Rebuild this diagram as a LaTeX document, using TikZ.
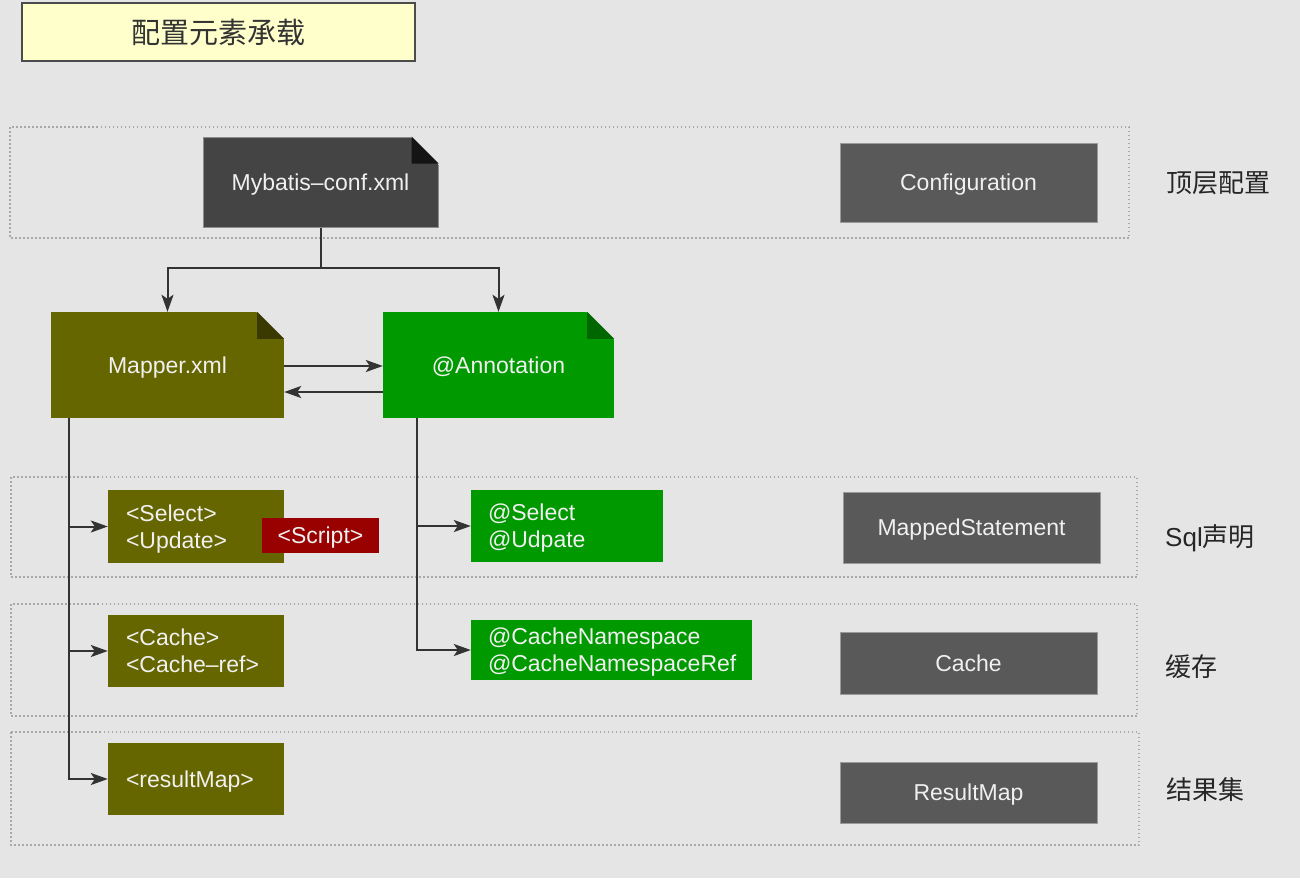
\documentclass[tikz,border=0pt]{standalone}
\usepackage{fontspec}
\setmainfont{Liberation Sans}
\newfontfamily\cjk{Noto Sans CJK SC}
\newfontfamily\latinfont{Liberation Sans}
\usetikzlibrary{arrows.meta,positioning}

\definecolor{bggray}{HTML}{E5E5E5}
\definecolor{groupline}{HTML}{A8A8A8}
\definecolor{confdoc}{HTML}{444444}
\definecolor{confold}{HTML}{141414}
\definecolor{xmlbox}{HTML}{666600}
\definecolor{xmlfold}{HTML}{3A3A00}
\definecolor{annobox}{HTML}{009900}
\definecolor{annofold}{HTML}{006600}
\definecolor{scriptbox}{HTML}{990000}
\definecolor{classbox}{HTML}{595959}
\definecolor{classline}{HTML}{9A9A9A}
\definecolor{titlebox}{HTML}{FFFFCC}
\definecolor{connline}{HTML}{333333}

\tikzset{
  txt/.style={font=\fontsize{23}{27}\selectfont, text=white!94!black},
  plainbox/.style={txt, inner sep=0pt, text depth=0pt},
  listbox/.style={txt, inner xsep=18pt, inner ysep=0pt, align=left, text depth=27pt},
  classnode/.style={plainbox, fill=classbox, draw=classline, line width=1pt},
  layer/.style={font=\cjk\fontsize{26}{30}\selectfont, text=black!85},
  group/.style={draw=groupline, line width=1.2pt, dash pattern=on 1.5pt off 2.5pt},
  conn/.style={draw=connline, line width=2pt},
  arr/.style={conn, -{Stealth[length=17pt,width=12pt,inset=4pt]}},
}

% folded corner of a document node
\newcommand{\foldcorner}[3]{%
  \filldraw[bggray, line width=1.5pt] (#1.north east) -- ++(-#2,0pt) -- ++(#2,-#2) -- cycle;
  \fill[#3] (#1.north east) ++(-#2,0pt) -- ++(#2,-#2) -- ++(-#2,0pt) -- cycle;}

\begin{document}
\begin{tikzpicture}[x=1pt,y=-1pt]
\fill[bggray] (0,0) rectangle (1300,878);
\useasboundingbox (0,0) rectangle (1300,878);

% title
\node[draw=black!70, line width=1.2pt, fill=titlebox, minimum width=393pt, minimum height=58pt,
      font=\cjk\fontsize{29}{33}\selectfont, text=black!80] (title) at (218.5,32) {配置元素承载};

% layers
\draw[group] (10,127) rectangle (1129,238);
\draw[group] (11,477) rectangle (1137,577);
\draw[group] (11,604) rectangle (1137,716);
\draw[group] (11,732) rectangle (1139,845);

% top level
\node[plainbox, fill=confdoc, draw=black!45, line width=1pt, minimum width=235pt, minimum height=90pt] (conf) at (320.5,182) {Mybatis–conf.xml};
\foldcorner{conf}{27pt}{confold}
\node[classnode, minimum width=257pt, minimum height=79pt] (configuration) at (968.5,182.5) {Configuration};
\node[layer] (toplabel) at (1218,183) {顶层配置};

% mapper sources
\node[plainbox, fill=xmlbox, minimum width=233pt, minimum height=106pt] (mapper) at (167.5,365) {Mapper.xml};
\foldcorner{mapper}{27pt}{xmlfold}
\node[plainbox, fill=annobox, minimum width=231pt, minimum height=106pt] (anno) at (498.5,365) {@Annotation};
\foldcorner{anno}{27pt}{annofold}

% sql statements
\node[listbox, fill=xmlbox, text width=140pt, minimum height=73pt] (xmlsql) at (196,526.5) {<Select>\\<Update>};
\node[plainbox, fill=scriptbox, minimum width=117pt, minimum height=35pt] (script) at (320.5,535.5) {<Script>};
\node[listbox, fill=annobox, inner xsep=17pt, text width=158pt, minimum height=72pt] (annosql) at (567,526) {@Select\\@Udpate};
\node[classnode, minimum width=257pt, minimum height=71pt] (mapped) at (971.5,527.5) {MappedStatement};
\node[layer] (sqllabel) at (1210,538) {{\latinfont Sql}声明};

% cache
\node[listbox, fill=xmlbox, text width=140pt, minimum height=72pt] (xmlcache) at (196,651) {<Cache>\\<Cache–ref>};
\node[listbox, fill=annobox, inner xsep=17pt, text width=247pt, minimum height=60pt] (annocache) at (611.5,650) {@CacheNamespace\\@CacheNamespaceRef};
\node[classnode, minimum width=257pt, minimum height=62pt] (cache) at (968.5,663) {Cache};
\node[layer] (cachelabel) at (1191,667) {缓存};

% result sets
\node[listbox, text depth=0pt, fill=xmlbox, text width=140pt, minimum height=72pt] (xmlresult) at (196,779) {<resultMap>};
\node[classnode, minimum width=257pt, minimum height=61pt] (resultmap) at (968.5,792.5) {ResultMap};
\node[layer] (resultlabel) at (1205,790) {结果集};

% connectors
\coordinate (split) at (conf.south |- 0,268);
\draw[conn] (conf.south) -- (split);
\draw[arr] (split) -| (mapper.north);
\draw[arr] (split) -| (anno.north);
\draw[arr] ([yshift=-1pt]mapper.east) -- ([yshift=-1pt]anno.west);
\draw[arr] ([yshift=-27pt]anno.west) -- ([yshift=-27pt]mapper.east);

\coordinate (mtrunk) at ([xshift=-98.5pt]mapper.south);
\draw[arr] (mtrunk) |- (xmlresult.west);
\draw[arr] (mtrunk |- xmlsql.west) -- (xmlsql.west);
\draw[arr] (mtrunk |- xmlcache.west) -- (xmlcache.west);

\coordinate (atrunk) at ([xshift=-81.5pt]anno.south);
\draw[arr] (atrunk) |- (annocache.west);
\draw[arr] (atrunk |- annosql.west) -- (annosql.west);
\end{tikzpicture}
\end{document}
